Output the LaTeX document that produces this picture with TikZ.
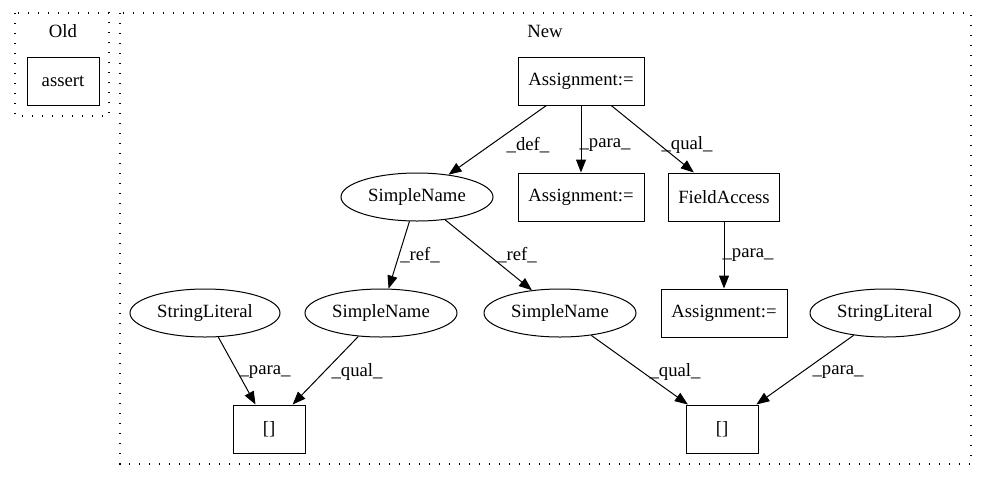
\documentclass[tikz,border=0pt]{standalone}
\usepackage{fontspec}
\setmainfont{Liberation Serif}
\usetikzlibrary{arrows.meta,shapes.geometric}

\begin{document}
\begin{tikzpicture}[x=1pt, y=-1pt,
	every node/.style={font=\fontsize{18.7}{22}\selectfont, inner sep=0pt},
	box/.style={draw, rectangle, line width=1pt, minimum height=48pt},
	oval/.style={draw, ellipse, line width=1pt, minimum width=152pt, minimum height=48pt},
	cluster/.style={draw, line width=1.2pt, dash pattern=on 1.4pt off 8.6pt},
	every edge/.style={draw, line width=1pt, -{Triangle[length=13pt,width=10pt]}}]
	\useasboundingbox (0,0) rectangle (987,480);

	% clusters
	\draw[cluster] (15,13) rectangle (109,116);
	\draw[cluster] (120,13) rectangle (971,464);
	\node (old) at (63,31) {Old};
	\node (new) at (545,31) {New};

	\node[box, minimum width=72pt]	(assert)	at (63,81)	{assert};

	\node[box, minimum width=126pt]	(asgTop)	at (581,81)	{Assignment:=};
	\node[oval]						(nameDef)	at (417,197)	{SimpleName};
	\node[box, minimum width=126pt]	(asgPara)	at (581,197)	{Assignment:=};
	\node[box, minimum width=111pt]	(fieldAcc)	at (724,197)	{FieldAccess};
	\node[box, minimum width=126pt]	(asgField)	at (724,313)	{Assignment:=};
	\node[oval, minimum width=150pt]	(strLeft)	at (205,313)	{StringLiteral};
	\node[oval]						(nameLeft)	at (381,313)	{SimpleName};
	\node[oval]						(nameRight)	at (560,313)	{SimpleName};
	\node[oval, minimum width=150pt]	(strRight)	at (885,313)	{StringLiteral};
	\node[box, minimum width=72pt]	(idxLeft)	at (269,429)	{[]};
	\node[box, minimum width=72pt]	(idxRight)	at (722,429)	{[]};

	\path
	(asgTop)	edge	(nameDef)
				edge	(asgPara)
				edge	(fieldAcc)
	(nameDef)	edge	(nameLeft)
				edge	(nameRight)
	(fieldAcc)	edge	(asgField)
	(strLeft)	edge	(idxLeft)
	(nameLeft)	edge	(idxLeft)
	(nameRight)	edge	(idxRight)
	(strRight)	edge	(idxRight);

	% edge labels
	\node (defLbl)		at (528,145)	{\_def\_};
	\node (paraLbl)		at (605,145)	{\_para\_};
	\node (qualLbl)		at (687,145)	{\_qual\_};
	\node (refLeftLbl)	at (420,255)	{\_ref\_};
	\node (refRightLbl)	at (517,255)	{\_ref\_};
	\node (fieldLbl)	at (748,255)	{\_para\_};
	\node (strLeftLbl)	at (265,372)	{\_para\_};
	\node (nameLeftLbl)	at (357,372)	{\_qual\_};
	\node (nameRightLbl) at (675,372)	{\_qual\_};
	\node (strRightLbl)	at (838,372)	{\_para\_};
\end{tikzpicture}
\end{document}
